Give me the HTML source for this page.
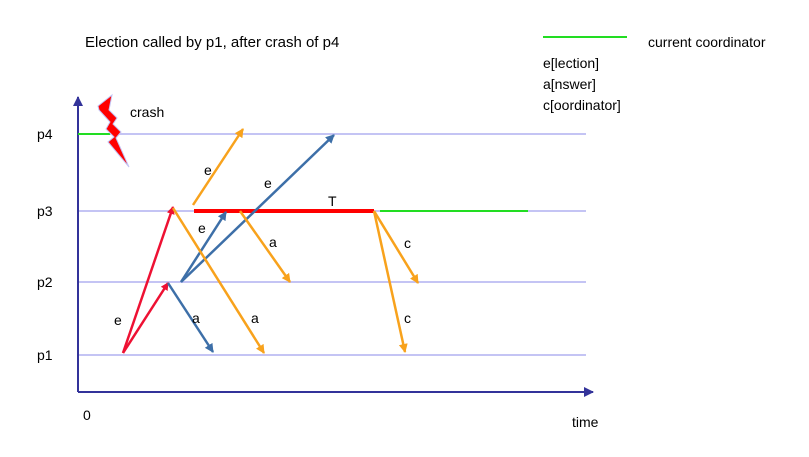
<!DOCTYPE html>
<html><head><meta charset="utf-8"><style>
body{margin:0;background:#fff}
svg{display:block;font-family:"Liberation Sans",sans-serif}
</style></head><body>
<svg width="809" height="457" viewBox="0 0 809 457">
<defs>
<marker id="mr" markerWidth="8" markerHeight="8" refX="7" refY="4" orient="auto" markerUnits="userSpaceOnUse"><path d="M0,0 L8,4 L0,8 z" fill="#ee1133"/></marker>
<marker id="mo" markerWidth="9" markerHeight="9" refX="8" refY="4.5" orient="auto" markerUnits="userSpaceOnUse"><path d="M0,0 L9,4.5 L0,9 z" fill="#f8a21c"/></marker>
<marker id="mb" markerWidth="9" markerHeight="9" refX="8" refY="4.5" orient="auto" markerUnits="userSpaceOnUse"><path d="M0,0 L9,4.5 L0,9 z" fill="#3d6fa8"/></marker>
<marker id="ma" markerWidth="10" markerHeight="10" refX="9" refY="5" orient="auto" markerUnits="userSpaceOnUse"><path d="M0,0 L10,5 L0,10 z" fill="#33339a"/></marker>
</defs>
<text x="85" y="47" font-size="15">Election called by p1, after crash of p4</text>
<line x1="543" y1="37" x2="627" y2="37" stroke="#22dd22" stroke-width="2"/>
<text x="648" y="47" font-size="14">current coordinator</text>
<text x="543" y="68" font-size="14">e[lection]</text>
<text x="543" y="89" font-size="14">a[nswer]</text>
<text x="543" y="110" font-size="14">c[oordinator]</text>
<g stroke="#c4c4f4" stroke-width="2">
<line x1="78" y1="134" x2="586" y2="134"/><line x1="78" y1="211" x2="586" y2="211"/>
<line x1="78" y1="282" x2="586" y2="282"/><line x1="78" y1="355" x2="586" y2="355"/>
</g>
<g font-size="14">
<text x="37" y="139">p4</text><text x="37" y="216">p3</text><text x="37" y="287">p2</text><text x="37" y="360">p1</text>
</g>
<line x1="78" y1="392" x2="78" y2="97" stroke="#33339a" stroke-width="2" marker-end="url(#ma)"/>
<line x1="78" y1="392" x2="593" y2="392" stroke="#33339a" stroke-width="2" marker-end="url(#ma)"/>
<text x="83" y="420" font-size="14">0</text>
<text x="572" y="427" font-size="14">time</text>
<line x1="78" y1="134" x2="110" y2="134" stroke="#22dd22" stroke-width="2"/>
<line x1="380" y1="211" x2="528" y2="211" stroke="#22dd22" stroke-width="2"/>
<polygon points="98,106 112,95 109,110 117,118 113,124 121,132 116,138 129,167 108,142 114,137 106,129 110,122 99,110" fill="#ff0000" stroke="#c4c4f4" stroke-width="1"/>
<text x="130" y="117" font-size="14">crash</text>
<line x1="194" y1="211" x2="374" y2="211" stroke="#ff0000" stroke-width="4"/>
<g fill="none" stroke-width="2.5">
<line x1="123" y1="353" x2="173" y2="207" stroke="#ee1133" marker-end="url(#mr)"/>
<line x1="123" y1="353" x2="168" y2="283" stroke="#ee1133" marker-end="url(#mr)"/>
<line x1="193" y1="205" x2="243" y2="129" stroke="#f8a21c" marker-end="url(#mo)"/>
<line x1="181" y1="282" x2="334" y2="135" stroke="#3d6fa8" marker-end="url(#mb)"/>
<line x1="181" y1="282" x2="226" y2="212" stroke="#3d6fa8" marker-end="url(#mb)"/>
<line x1="168" y1="283" x2="213" y2="352" stroke="#3d6fa8" marker-end="url(#mb)"/>
<line x1="173" y1="208" x2="264" y2="353" stroke="#f8a21c" marker-end="url(#mo)"/>
<line x1="240" y1="211" x2="290" y2="282" stroke="#f8a21c" marker-end="url(#mo)"/>
<line x1="374" y1="211" x2="418" y2="283" stroke="#f8a21c" marker-end="url(#mo)"/>
<line x1="374" y1="211" x2="405" y2="352" stroke="#f8a21c" marker-end="url(#mo)"/>
</g>
<g font-size="14">
<text x="114" y="325">e</text><text x="192" y="323">a</text><text x="251" y="323">a</text>
<text x="404" y="248">c</text><text x="404" y="323">c</text><text x="198" y="233">e</text>
<text x="204" y="175">e</text><text x="264" y="188">e</text><text x="269" y="247">a</text>
<text x="328" y="206">T</text>
</g>
</svg>
</body></html>
